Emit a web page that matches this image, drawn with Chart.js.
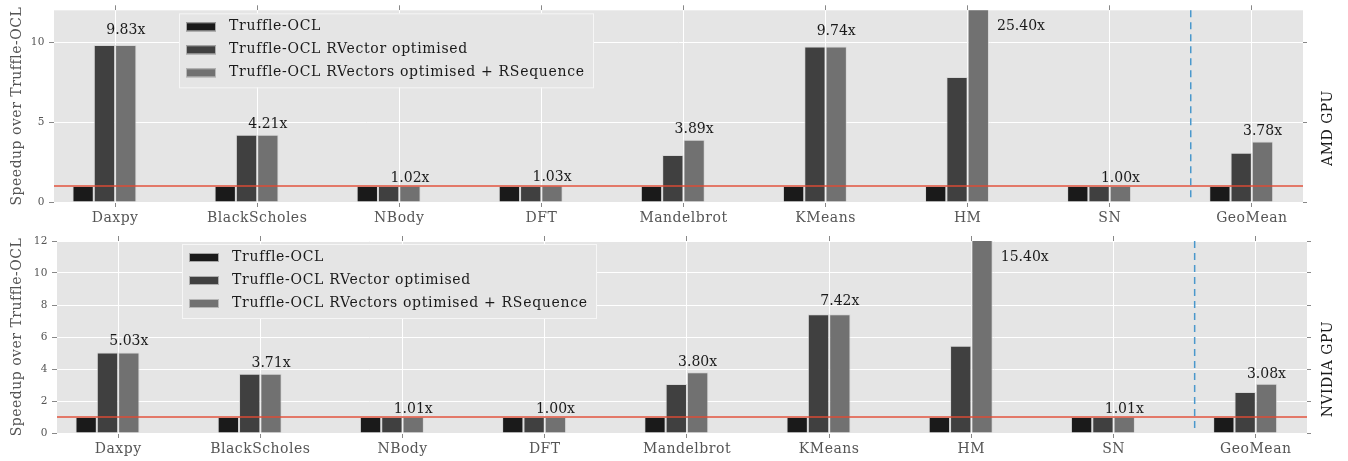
<!DOCTYPE html>
<html>
<head>
<meta charset="utf-8">
<title>Speedup over Truffle-OCL</title>
<script src="https://cdn.jsdelivr.net/npm/chart.js@4.4.0/dist/chart.umd.min.js"></script>
<style>
  html, body { margin: 0; padding: 0; background: #fff; }
  .panel { position: relative; width: 1348px; }
  canvas { display: block; }
</style>
</head>
<body>
<div class="panel" style="height:230px"><canvas id="amdChart" width="1348" height="230"></canvas></div>
<div class="panel" style="height:231px"><canvas id="nvidiaChart" width="1348" height="231"></canvas></div>
<script>
const categories = ['Daxpy', 'BlackScholes', 'NBody', 'DFT', 'Mandelbrot', 'KMeans', 'HM', 'SN', 'GeoMean'];
const seriesNames = [
  'Truffle-OCL',
  'Truffle-OCL RVector optimised',
  'Truffle-OCL RVectors optimised + RSequence'
];

// AMD GPU speedups
const amdBase      = [1, 1, 1, 1, 1, 1, 1, 1, 1];
const amdRVector   = [9.83, 4.21, 1.00, 1.00, 2.94, 9.74, 7.83, 1.00, 3.09];
const amdRSequence = [9.83, 4.21, 1.02, 1.03, 3.89, 9.74, 25.40, 1.00, 3.78];

// NVIDIA GPU speedups
const nvidiaBase      = [1, 1, 1, 1, 1, 1, 1, 1, 1];
const nvidiaRVector   = [5.03, 3.71, 1.00, 1.00, 3.06, 7.42, 5.45, 1.00, 2.56];
const nvidiaRSequence = [5.03, 3.71, 1.01, 1.00, 3.80, 7.42, 15.40, 1.01, 3.08];

const amdTicks = [0, 5, 10];
const nvidiaTicks = [0, 2, 4, 6, 8, 10, 12];

const FONT = 'DejaVu Serif';
const SPACING = '0.5px';     // the serif text is set a little loose
const Y_MAX = 12;
const X_MIN = -0.43;
const X_MAX = 8.36;
const BASELINE = 1;          // speedup of the plain Truffle-OCL run
const SEPARATOR_AT = 7.57;   // splits the benchmarks from the geometric mean
const GROUP_SHIFT = -0.075;  // bar groups sit just left of their tick
const GROUP_WIDTH = 0.45;    // three bars, 0.15 each
const barColors = ['#1a1a1a', '#404040', '#717171'];

function toPoints(values) {
  return values.map((v, i) => ({ x: i + GROUP_SHIFT, y: v }));
}

const panelDecor = {
  id: 'panelDecor',
  beforeUpdate(chart) {
    chart.ctx.letterSpacing = SPACING;
  },
  beforeDraw(chart) {
    const { ctx, chartArea: a } = chart;
    ctx.letterSpacing = SPACING;
    ctx.save();
    ctx.fillStyle = '#e5e5e5';
    ctx.fillRect(a.left, a.top, a.right - a.left, a.bottom - a.top);
    ctx.restore();
  },
  afterDatasetsDraw(chart, args, opts) {
    const { ctx, chartArea: a, scales: { x, y } } = chart;
    ctx.save();

    // baseline at 1x
    const yb = y.getPixelForValue(BASELINE);
    ctx.strokeStyle = 'rgba(226, 74, 51, 0.7)';
    ctx.lineWidth = 2;
    ctx.beginPath();
    ctx.moveTo(a.left, yb);
    ctx.lineTo(a.right, yb);
    ctx.stroke();

    // dashed separator before GeoMean
    const xs = x.getPixelForValue(SEPARATOR_AT);
    ctx.strokeStyle = '#4a98cc';
    ctx.lineWidth = 1.5;
    ctx.setLineDash([7, 5]);
    ctx.beginPath();
    ctx.moveTo(xs, a.top);
    ctx.lineTo(xs, a.bottom);
    ctx.stroke();
    ctx.setLineDash([]);

    // value labels above the last series
    const ds = chart.data.datasets[2];
    const meta = chart.getDatasetMeta(2);
    ctx.letterSpacing = '0px';
    ctx.font = '14px "' + FONT + '"';
    ctx.fillStyle = '#1a1a1a';
    meta.data.forEach((bar, i) => {
      const v = ds.data[i].y;
      const text = v.toFixed(2) + 'x';
      if (v > Y_MAX) {
        ctx.textAlign = 'left';
        ctx.textBaseline = 'middle';
        ctx.fillText(text, bar.x + bar.width / 2 + 8, y.getPixelForValue(Y_MAX - 1));
      } else {
        ctx.textAlign = 'center';
        ctx.textBaseline = 'bottom';
        ctx.fillText(text, bar.x, y.getPixelForValue(v * 1.05));
      }
    });

    // legend box
    const lx = a.left + 125, ly = a.top + 3, lw = 414, lh = 74;
    ctx.fillStyle = '#e5e5e5';
    ctx.fillRect(lx, ly, lw, lh);
    ctx.strokeStyle = '#f6f6f6';
    ctx.lineWidth = 1;
    ctx.strokeRect(lx + 0.5, ly + 0.5, lw, lh);
    ctx.letterSpacing = '0.7px';
    chart.data.datasets.forEach((d, k) => {
      const ry = ly + 13.5 + k * 23;
      ctx.fillStyle = d.backgroundColor;
      ctx.fillRect(lx + 7, ry - 4.5, 30, 9);
      ctx.strokeStyle = 'rgba(200,200,200,0.8)';
      ctx.strokeRect(lx + 7.5, ry - 4, 29, 8);
      ctx.fillStyle = '#1a1a1a';
      ctx.textAlign = 'left';
      ctx.textBaseline = 'middle';
      ctx.fillText(d.label, lx + 50, ry);
    });

    // device name on the right
    ctx.translate(chart.width - 20, y.getPixelForValue(7));
    ctx.rotate(-Math.PI / 2);
    ctx.letterSpacing = '0.5px';
    ctx.font = '14px "' + FONT + '"';
    ctx.fillStyle = '#1a1a1a';
    ctx.textAlign = 'right';
    ctx.textBaseline = 'middle';
    ctx.fillText(opts.side, 0, 0);

    ctx.restore();
  }
};

function integerTicks(scale) {
  scale.ticks = categories.map((_, i) => ({ value: i }));
}

function makeChart(id, series, yTicks, side, box) {
  const fixedTicks = scale => { scale.ticks = yTicks.map(v => ({ value: v })); };
  return new Chart(document.getElementById(id), {
    type: 'bar',
    data: {
      datasets: series.map((vals, k) => ({
        label: seriesNames[k],
        data: toPoints(vals),
        backgroundColor: barColors[k],
        borderColor: 'rgba(210,210,210,0.7)',
        borderWidth: 1,
        categoryPercentage: GROUP_WIDTH,
        barPercentage: 1
      }))
    },
    options: {
      responsive: false,
      animation: false,
      layout: { padding: 0 },
      plugins: {
        legend: { display: false },
        tooltip: { enabled: false },
        panelDecor: { side }
      },
      scales: {
        x: {
          type: 'linear',
          position: 'bottom',
          min: X_MIN,
          max: X_MAX,
          offset: false,
          afterBuildTicks: integerTicks,
          afterFit: s => { s.height = box.bottom; },
          ticks: {
            callback: v => categories[v],
            color: '#555',
            font: { family: FONT, size: 14 },
            padding: 3,
            autoSkip: false,
            maxRotation: 0
          },
          grid: { offset: false, color: '#ffffff', tickColor: '#888', tickLength: 5 },
          border: { display: false }
        },
        xTop: {
          type: 'linear',
          position: 'top',
          min: X_MIN,
          max: X_MAX,
          offset: false,
          afterBuildTicks: integerTicks,
          afterFit: s => { s.height = box.top; },
          ticks: { display: false },
          grid: { offset: false, drawOnChartArea: false, tickColor: '#888', tickLength: 5 },
          border: { display: false }
        },
        y: {
          position: 'left',
          min: 0,
          max: Y_MAX,
          afterBuildTicks: fixedTicks,
          afterFit: s => { s.width = box.left; },
          ticks: { color: '#555', font: { family: FONT, size: 10.5 }, padding: 4 },
          grid: { color: '#ffffff', tickColor: '#888', tickLength: 5 },
          border: { display: false },
          title: {
            display: true,
            text: 'Speedup over Truffle-OCL',
            color: '#555',
            font: { family: FONT, size: 14 },
            padding: { top: 9, bottom: 0 }
          }
        },
        yRight: {
          position: 'right',
          min: 0,
          max: Y_MAX,
          afterBuildTicks: fixedTicks,
          afterFit: s => { s.width = box.right; },
          ticks: { display: false },
          grid: { drawOnChartArea: false, tickColor: '#888', tickLength: 4 },
          border: { display: false }
        }
      }
    },
    plugins: [panelDecor]
  });
}

makeChart('amdChart', [amdBase, amdRVector, amdRSequence], amdTicks, 'AMD GPU',
  { top: 9, bottom: 28, left: 54, right: 45 });
makeChart('nvidiaChart', [nvidiaBase, nvidiaRVector, nvidiaRSequence], nvidiaTicks, 'NVIDIA GPU',
  { top: 11, bottom: 28, left: 57, right: 41 });
</script>
</body>
</html>
